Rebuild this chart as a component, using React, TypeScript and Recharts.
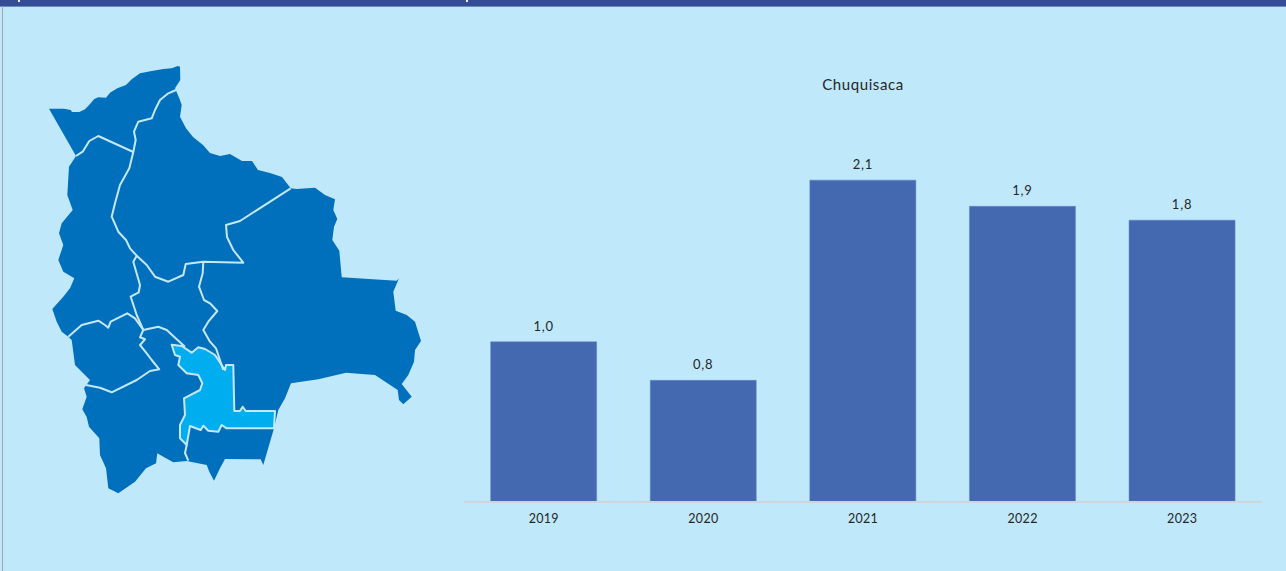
import React from 'react'
import { BarChart, Bar, XAxis, YAxis, LabelList } from 'recharts'

const years = ['2019', '2020', '2021', '2022', '2023']
const values = [1.04, 0.79, 2.09, 1.92, 1.83]

const data = years.map((year, i) => ({ year, value: values[i] }))

const fmt = (v: number) => v.toFixed(1).replace('.', ',')

// department outlines of the map, page pixels
const COUNTRY =
  'M49 108.7 L64 108.7 L70.7 110 L72 112 L79.3 112 L85 109.3 L90 104 L94.3 99 L98.3 97.3 L106 97.7 L110 92.7 L117.3 88.3 L126 85 L131.7 79.3 L140 73.3 L151.7 71 L163.3 69 L171.7 68.3 L177.7 66 L180 66.7 L180.3 80 L175 88.3 L179.3 98.3 L181.7 105 L180 116.7 L186 128.3 L193 137 L203 145 L210 153 L220 156 L230 154 L242 161 L252 161 L258 170 L270 173 L282 177 L290.7 188.3 L296.7 189 L315 187.7 L325 195 L335 199.3 L333.3 210 L337.3 219 L334 226.7 L332.3 240 L339.3 250.7 L341.7 277.3 L365 278.7 L396.7 280.7 L399 278.3 L393.3 291.7 L395.7 310.7 L406.7 315 L415 321.7 L421 341 L415 350 L414 361.7 L408.3 375 L401.7 384 L411.7 396.7 L403.3 404.3 L399 400 L397.7 390 L375 375 L346 372.7 L318.3 379.3 L291 383.3 L285 398.3 L278.3 410 L274 428.3 L263.3 465 L260.7 459.3 L225 459 L220 468.3 L214 480.7 L209.3 471.7 L206.7 465 L186.7 461 L173.3 462.3 L163.3 456.7 L157.3 453.3 L156 463.3 L146 468.3 L135 481.7 L118.3 493.3 L108.3 488.3 L106 468.3 L100 455 L99.3 438.3 L89 426.7 L86.7 417 L82.3 409.3 L86.7 396.7 L84 388.3 L90 380 L75 365 L71.7 340 L68.3 336.7 L61.7 331.7 L56.7 321.7 L52.3 309 L63.3 296.7 L70 288.3 L74.3 278.3 L63.3 271.7 L58.3 260 L63.3 245 L59 233.3 L61.7 223.3 L72.7 210 L67.3 195 L69 166.7 L76 156 Z'
const BORDERS = [
  'M76 156 L82.7 151.7 L89.3 141 L98.3 136 L133.3 152',
  'M176 90 L168.3 93.3 L160 100 L155 110 L151.7 118.3 L138.3 121.7 L134 131.7 L135.7 140 L133.3 152 L129.3 168.3 L120 185 L115 203.3 L111.7 216.7 L118.3 231.7 L126 240 L130 248.3 L136.7 255.7 L133.3 261.7 L140 285 L138.7 292.3 L130.7 296.7 L136.7 315 L143.3 330',
  'M136.7 255.7 L146.7 265 L155 276.7 L168.3 281.7 L183.3 275 L185.7 264 L203.3 261.7 L243.3 262.7 L233.3 250 L227 237 L226 225 L240 221 L290.7 188.3',
  'M203.3 261.7 L202.7 273.3 L199 286.7 L204 300 L210 303.3 L217.3 311 L208.3 321.7 L203.3 330 L210 341.7 L216 348.3 L223.3 370',
  'M68.3 336.7 L81.7 325 L98.3 320.7 L105 325 L108.3 327.7 L110.7 321.7 L127.3 313.3 L135 318.3 L143.3 330',
  'M143.3 330 L140 337.3 L145 339.3 L140 345 L146.7 353.3 L151.7 360 L159.3 369.3 L150 371 L136.7 380 L111.7 392.3 L100 387.7 L86 385',
  'M143.3 330 L158.3 326.7 L166.7 330 L176.7 339.3 L185 346.7',
  'M186.7 445 L185 453 L188.3 460.7',
]
const CHUQUISACA =
  'M171.7 344.7 L181.7 346 L191.7 352.7 L198.3 347.3 L205 349 L215 355 L225 370 L226 365 L233.3 365 L234.3 411 L240 411 L242.7 406.7 L245.7 411 L275 411 L274 428.3 L226.7 428.3 L221.7 425 L218.3 431.7 L208.3 430.7 L203.3 425.7 L200.7 430 L190 426 L186.7 445 L180 438.3 L180 425 L185 415 L184 398.3 L200 390 L202.3 383.3 L198.3 375 L186.7 373.3 L178.3 365 L180 356.7 L175 355 Z'

const FONT = 'Lato, sans-serif'
const TEXT = '#262626'

export default function App() {
  return (
    <div
      style={{
        position: 'absolute',
        left: 0,
        top: 0,
        width: 1286,
        height: 571,
        background: '#BFE8FB',
        overflow: 'hidden',
        fontFamily: FONT,
      }}
    >
      <div style={{ position: 'absolute', left: 0, top: 0, width: 1286, height: 6, background: '#354C96', borderBottom: '1px solid #6F8BBE' }} />
      <div style={{ position: 'absolute', left: 18, top: 0, width: 2, height: 2, background: '#E8EEF8' }} />
      <div style={{ position: 'absolute', left: 466, top: 0, width: 2, height: 2, background: '#E8EEF8' }} />
      <div style={{ position: 'absolute', left: 2, top: 6, width: 1, height: 565, background: '#A6A6A6' }} />

      <svg width={1286} height={571} style={{ position: 'absolute', left: 0, top: 0 }}>
        <path d={COUNTRY} fill="#0070BC" />
        <path d={CHUQUISACA} fill="#00AEEF" stroke="#C5E8F7" strokeWidth={2} strokeLinejoin="round" />
        {BORDERS.map((d, i) => (
          <path key={i} d={d} fill="none" stroke="#C5E8F7" strokeWidth={2} strokeLinejoin="round" />
        ))}
      </svg>

      <div
        style={{
          position: 'absolute',
          left: 663,
          width: 400,
          top: 75,
          textAlign: 'center',
          fontSize: 15,
          letterSpacing: 0.6,
          color: TEXT,
        }}
      >
        Chuquisaca
      </div>

      <div style={{ position: 'absolute', left: 464, top: 117 }}>
        <BarChart
          width={798}
          height={415}
          data={data}
          margin={{ top: 0, right: 0, bottom: 0, left: 0 }}
          barCategoryGap="16.7%"
        >
          <XAxis
            dataKey="year"
            tickLine={false}
            axisLine={{ stroke: '#CCD5DC', strokeWidth: 2 }}
            tick={{ fontSize: 12.5, fill: TEXT, fontFamily: FONT, letterSpacing: 0.3 }}
            tickMargin={6}
          />
          <YAxis hide domain={[0, 2.5]} />
          <Bar dataKey="value" fill="#4469B0" stroke="#5C84C4" strokeWidth={0.5} isAnimationActive={false}>
            <LabelList
              dataKey="value"
              position="top"
              offset={11}
              formatter={fmt}
              style={{ fontSize: 13, fill: TEXT, fontFamily: FONT, letterSpacing: 0.8 }}
            />
          </Bar>
        </BarChart>
      </div>
    </div>
  )
}
